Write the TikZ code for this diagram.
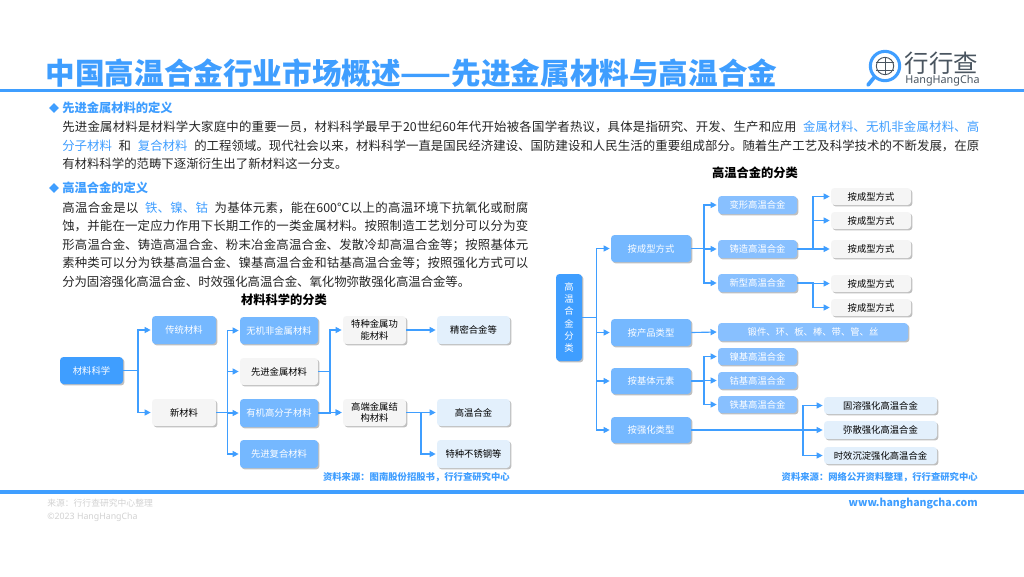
\documentclass[tikz,border=0pt]{standalone}
\usepackage{fontspec}
\setmainfont{Noto Sans CJK SC}
\newfontfamily\latinf{Noto Sans}
\XeTeXlinebreaklocale "zh"
\XeTeXlinebreakskip=0pt plus 3pt minus 0.5pt
\usetikzlibrary{arrows.meta,shadows,shapes.geometric}
\definecolor{hblue}{HTML}{3F9EFF}
\definecolor{hmid}{HTML}{75B8FF}
\definecolor{hlight}{HTML}{88C0FF}
\definecolor{hgray}{HTML}{F5F5F5}
\definecolor{hpale}{HTML}{E3F0FC}
\definecolor{htext}{HTML}{262626}
\definecolor{hfoot}{HTML}{D2D2D2}
\definecolor{hlogo}{HTML}{4A5560}
\tikzset{
  box/.style={rounded corners=2.6pt,inner sep=0pt,font=\fontsize{7}{8.6}\selectfont,align=center,
    drop shadow={shadow xshift=1.1pt,shadow yshift=-1.1pt,fill=black!45,opacity=.55}},
  bdeep/.style={box,fill=hblue,text=white},
  bmid/.style={box,fill=hmid,text=white},
  blight/.style={box,fill=hlight,text=white},
  bgray/.style={box,fill=hgray,text=black},
  bpale/.style={box,fill=hpale,text=black},
  conn/.style={draw=hblue,line width=0.85pt,shorten >=0.8pt,-{Triangle[length=4.6pt,width=4.6pt]}},
  bodytext/.style={anchor=west,inner sep=0pt,text=htext,font=\fontsize{9.3}{11}\selectfont},
  headtext/.style={anchor=west,inner sep=0pt,text=hblue,font=\fontsize{9.2}{11}\selectfont\bfseries},
  subtitle/.style={inner sep=0pt,text=black,font=\fontsize{9.2}{11}\selectfont\bfseries},
  srctext/.style={anchor=east,inner sep=0pt,text=hblue,font=\fontsize{7}{8}\selectfont\bfseries},
  marker/.style={diamond,fill=hblue,inner sep=0pt,minimum width=7.5pt,minimum height=7.5pt},
  bar/.style={fill=hblue,draw=none},
}
% style, name, x1, y1, x2, y2, text
\newcommand\bx[7]{%
  \pgfmathsetmacro\bw{(#5-#3)*0.75}\pgfmathsetmacro\bh{(#6-#4)*0.75}%
  \node[#1,minimum width=\bw pt,minimum height=\bh pt] (#2) at ({(#3+#5)/2},{(#4+#6)/2}) {#7};}
\newcommand\branch[3]{\draw[conn] (#1.east) -- (#1.east -| #2) |- (#3.west);}
\newcommand\fl[4]{\pgfmathsetmacro\lw{#3*0.75}\node[bodytext] (#1) at (62,#2) {\parbox{\lw pt}{\noindent\parfillskip=0pt\relax #4\par}};}
\newcommand\hl[1]{\textcolor{hblue}{#1}}
\begin{document}
\begin{tikzpicture}[x=0.75pt,y=-0.75pt]
\useasboundingbox (0,0) rectangle (1024,576);
\fill[white] (0,0) rectangle (1024,576);
% bars
\fill[bar] (0,88.5) rectangle (1024,92);
\fill[bar] (0,490) rectangle (1024,493.5);
% title
\node[anchor=west,inner sep=0pt,text=hblue,font=\fontsize{22.2}{26}\selectfont\bfseries] (title) at (45.5,73) {中国高温合金行业市场概述——先进金属材料与高温合金};
% logo
\draw[hblue,line width=2.3pt] (885,66) circle (11pt);
\draw[hblue,line width=2.8pt,line cap=round] (874.5,77) -- (868,85);
\draw[hlogo,line width=0.7pt] (885,66) circle (6.5pt);
\draw[hlogo,line width=0.7pt] (876,62) -- (894,62) (876,70) -- (894,70) (885,57) -- (885,75);
\node[anchor=west,inner sep=0pt,text=hlogo,font=\fontsize{18.3}{20}\selectfont] (logocn) at (904.5,63.5) {行行查};
\node[anchor=west,inner sep=0pt,text=hlogo,font=\latinf\fontsize{8.1}{10}\selectfont] (logoen) at (905,81) {HangHangCha};
% text block 1
\node[marker] (m1) at (54,108) {};
\node[headtext] (h1) at (62,108) {先进金属材料的定义};
\fl{l1}{127}{917}{先进金属材料是材料学大家庭中的重要一员，材料科学最早于20世纪60年代开始被各国学者热议，具体是指研究、开发、生产和应用\hskip 5pt\hl{金属材料、无机非金属材料、高}}
\fl{l2}{146}{917}{\hl{分子材料}\hskip 5pt 和\hskip 5pt\hl{复合材料}\hskip 5pt 的工程领域。现代社会以来，材料科学一直是国民经济建设、国防建设和人民生活的重要组成部分。随着生产工艺及科学技术的不断发展，在原}
\node[bodytext] (l3) at (62,164) {有材料科学的范畴下逐渐衍生出了新材料这一分支。};
% text block 2
\node[marker] (m2) at (54,188) {};
\node[headtext] (h2) at (62,188) {高温合金的定义};
\fl{p1}{208}{466}{高温合金是以\hskip 5pt\hl{铁、镍、钴}\hskip 5pt 为基体元素，能在600℃以上的高温环境下抗氧化或耐腐}
\fl{p2}{226}{466}{蚀，并能在一定应力作用下长期工作的一类金属材料。按照制造工艺划分可以分为变}
\fl{p3}{245}{466}{形高温合金、铸造高温合金、粉末冶金高温合金、发散冷却高温合金等；按照基体元}
\fl{p4}{263}{466}{素种类可以分为铁基高温合金、镍基高温合金和钴基高温合金等；按照强化方式可以}
\fl{p5}{282}{408}{分为固溶强化高温合金、时效强化高温合金、氧化物弥散强化高温合金等。}
% subtitles
\node[subtitle] (st1) at (284,300) {材料科学的分类};
\node[subtitle] (st2) at (755,173) {高温合金的分类};
% left tree
\coordinate (ta) at (138,370);
\coordinate (tb) at (227.5,412);
\coordinate (tc) at (330,371);
\coordinate (td) at (421,412);
\bx{bdeep}{ls}{60}{357}{123}{384}{材料科学}
\bx{bmid}{lt}{152}{316}{216}{344}{传统材料}
\bx{bgray}{ln}{152}{399}{216}{426}{新材料}
\bx{bmid}{lw}{240}{317}{318}{344}{无机非金属材料}
\bx{bgray}{lj}{240}{358}{318}{385}{先进金属材料}
\bx{bmid}{ly}{240}{399}{318}{427}{有机高分子材料}
\bx{bmid}{lf}{240}{440}{318}{468}{先进复合材料}
\bx{bgray}{lg}{343}{316}{406}{344}{特种金属功\\能材料}
\bx{bgray}{lh}{343}{399}{406}{426}{高端金属结\\构材料}
\bx{bpale}{lm}{437}{316}{510}{344}{精密合金等}
\bx{bpale}{la}{437}{399}{510}{426}{高温合金}
\bx{bpale}{lb}{437}{440}{510}{468}{特种不锈钢等}
\branch{ls}{ta}{lt}
\branch{ls}{ta}{ln}
\branch{ln}{tb}{lw}
\branch{ln}{tb}{lj}
\branch{ln}{tb}{ly}
\branch{ln}{tb}{lf}
\branch{lj}{tc}{lg}
\branch{lj}{tc}{lh}
\branch{ly}{tc}{lh}
\draw[conn] (lg.east) -- (lm.west);
\branch{lh}{td}{la}
\branch{lh}{td}{lb}
\node[srctext] (src1) at (510,477.5) {资料来源：图南股份招股书，行行查研究中心};
% right tree
\coordinate (ra) at (596.5,317);
\coordinate (rb) at (704,250);
\coordinate (rc) at (813,249);
\coordinate (rd) at (704,381);
\coordinate (re) at (803,430);
\bx{bdeep}{r0}{556}{274}{582}{361}{高\\[0.6pt]温\\[0.6pt]合\\[0.6pt]金\\[0.6pt]分\\[0.6pt]类}
\bx{bmid}{r1}{611}{235}{691}{262}{按成型方式}
\bx{bmid}{r2}{611}{319}{691}{346}{按产品类型}
\bx{bmid}{r3}{611}{368}{691}{394}{按基体元素}
\bx{bmid}{r4}{611}{417}{691}{443}{按强化类型}
\bx{blight}{a1}{718}{196}{797}{214}{变形高温合金}
\bx{blight}{a2}{718}{240}{797}{258}{铸造高温合金}
\bx{blight}{a3}{718}{274}{797}{292}{新型高温合金}
\bx{bgray}{c1}{831}{188}{911}{205}{按成型方式}
\bx{bgray}{c2}{831}{212}{911}{229}{按成型方式}
\bx{bgray}{c3}{831}{240}{911}{258}{按成型方式}
\bx{bgray}{c4}{831}{275}{911}{292}{按成型方式}
\bx{bgray}{c5}{831}{299}{911}{316}{按成型方式}
\bx{blight}{b1}{718}{323}{908}{341}{锻件、环、板、棒、带、管、丝}
\bx{blight}{d1}{718}{348}{797}{365}{镍基高温合金}
\bx{blight}{d2}{718}{372}{797}{389}{钴基高温合金}
\bx{blight}{d3}{718}{396}{797}{413}{铁基高温合金}
\bx{bpale}{e1}{824}{397}{937}{414}{固溶强化高温合金}
\bx{bpale}{e2}{824}{421}{937}{439}{弥散强化高温合金}
\bx{bpale}{e3}{824}{447}{937}{464}{时效沉淀强化高温合金}
\branch{r0}{ra}{r1}
\branch{r0}{ra}{r2}
\branch{r0}{ra}{r3}
\branch{r0}{ra}{r4}
\branch{r1}{rb}{a1}
\branch{r1}{rb}{a2}
\branch{r1}{rb}{a3}
\branch{a2}{rc}{c1}
\branch{a2}{rc}{c2}
\branch{a2}{rc}{c3}
\branch{a3}{rc}{c4}
\branch{a3}{rc}{c5}
\draw[conn] (r2.east) -- (b1.west);
\branch{r3}{rd}{d1}
\branch{r3}{rd}{d2}
\branch{r3}{rd}{d3}
\branch{r4}{re}{e1}
\branch{r4}{re}{e2}
\branch{r4}{re}{e3}
\node[srctext] (src2) at (978,477.5) {资料来源：网络公开资料整理，行行查研究中心};
% footer
\node[anchor=west,inner sep=0pt,text=hfoot,font=\fontsize{6.6}{8}\selectfont] (f1) at (47,503.5) {来源：行行查研究中心整理};
\node[anchor=west,inner sep=0pt,text=hfoot,font=\latinf\fontsize{6.6}{8}\selectfont] (f2) at (47,517) {©2023 HangHangCha};
\node[anchor=east,inner sep=0pt,text=hblue,font=\fontsize{7.9}{10}\selectfont\bfseries] (web) at (978,504) {www.hanghangcha.com};
\end{tikzpicture}
\end{document}
